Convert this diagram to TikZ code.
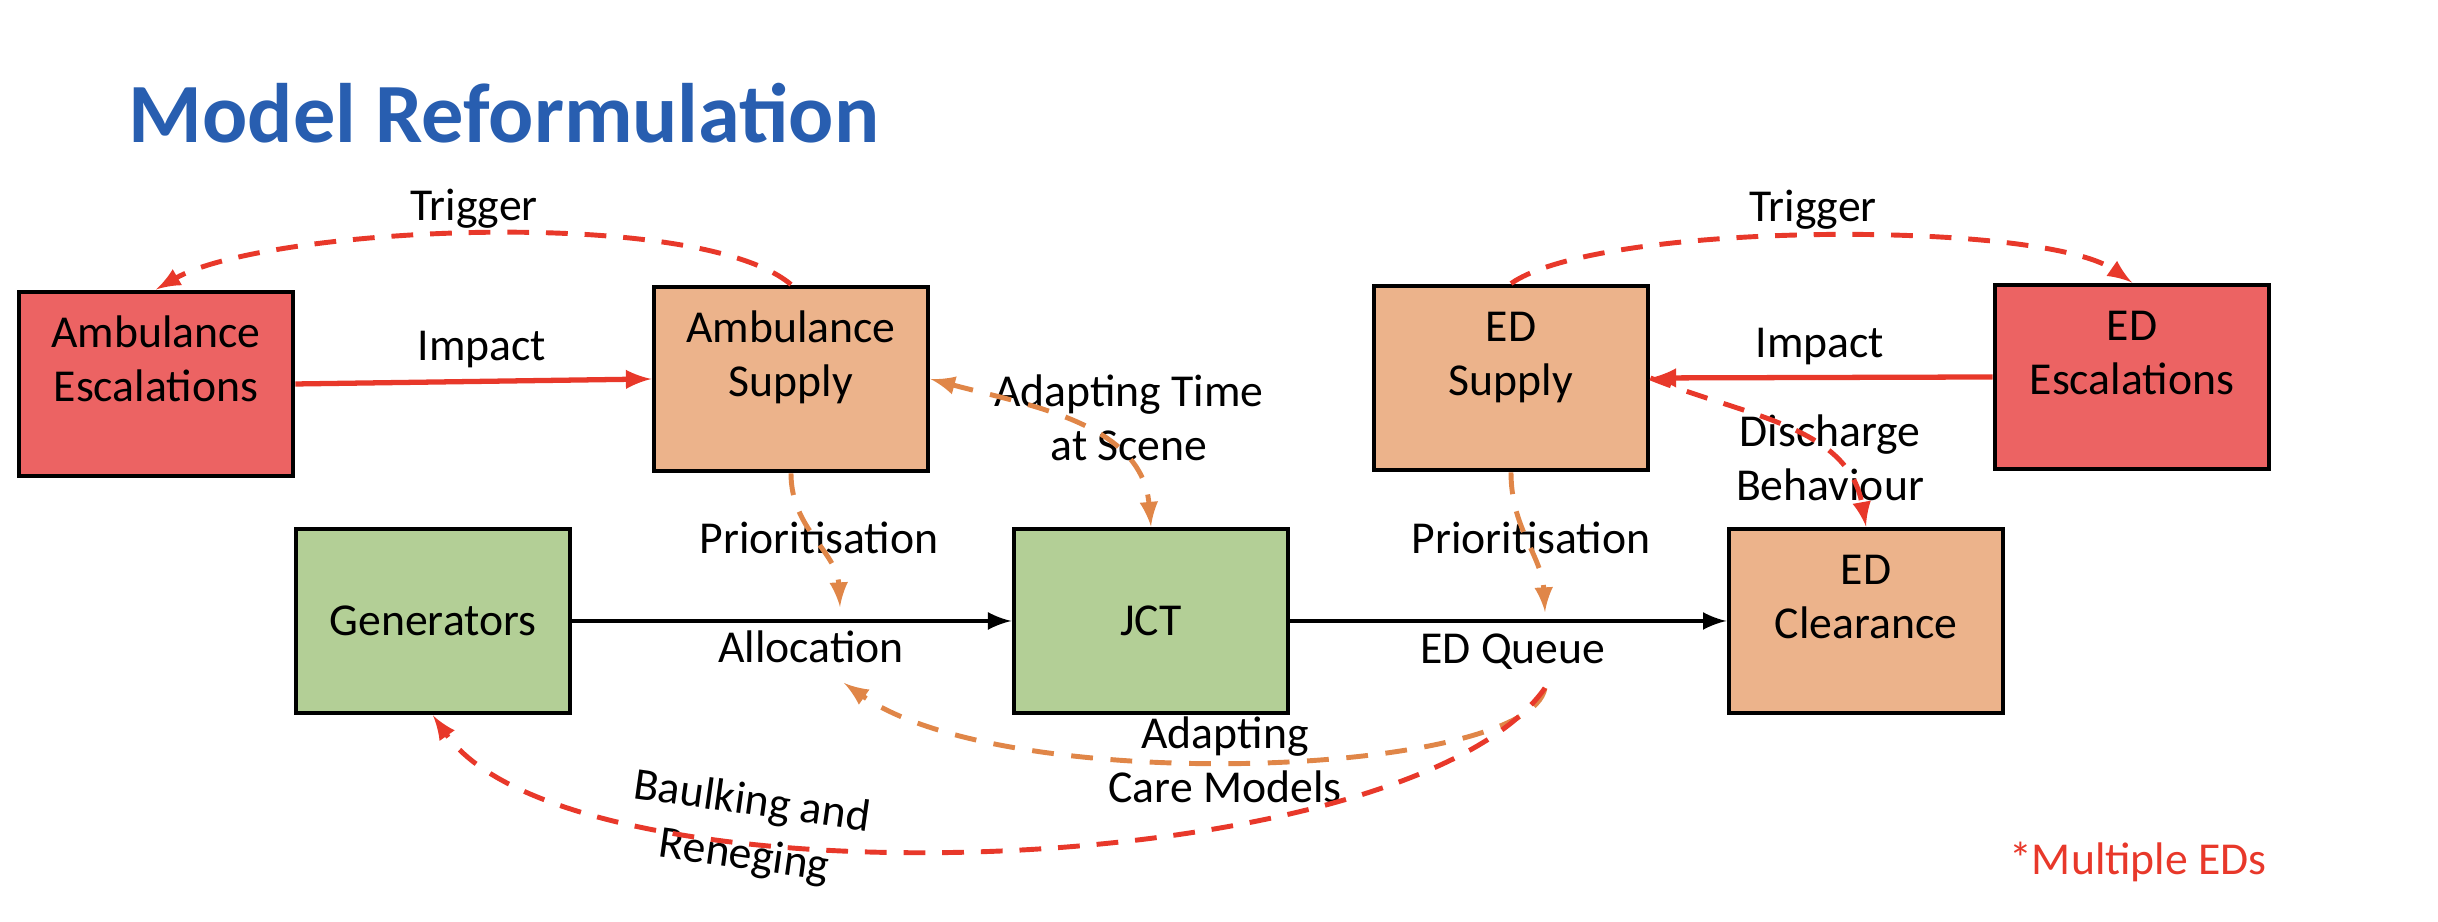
\documentclass[tikz,border=0pt]{standalone}
\usepackage{fontspec}
\setmainfont{Carlito}
\usepackage{xcolor}
\definecolor{escred}{RGB}{236,99,99}
\definecolor{supplyorange}{RGB}{236,179,139}
\definecolor{gengreen}{RGB}{179,207,150}
\definecolor{linered}{RGB}{232,56,42}
\definecolor{lineorange}{RGB}{224,134,72}
\definecolor{titleblue}{RGB}{40,94,176}

\begin{document}
\begin{tikzpicture}[
    box/.style={draw, line width=1.4pt, minimum width=2.74cm, minimum height=1.84cm,
        inner ysep=0pt, align=center, font=\fontsize{13}{15.5}\selectfont},
    topbox/.style={box, text height=1.10cm, text depth=0.74cm},
    lab/.style={align=center, font=\fontsize{13}{15.5}\selectfont},
    impact/.style={-latex, line width=1.5pt, color=linered},
    redflow/.style={-latex, line width=1.4pt, color=linered, dash pattern=on 6.2pt off 4.8pt},
    orangeflow/.style={-latex, line width=1.4pt, color=lineorange, dash pattern=on 6.2pt off 5pt},
    flow/.style={-latex, line width=1.3pt}
]
    \useasboundingbox (0,0) rectangle (24.38,9.22);
    % title
    \node[anchor=base west, inner sep=0pt, text=titleblue,
        font=\fontsize{24}{28}\selectfont\bfseries] (title) at (1.28,7.79) {Model Reformulation};

    % ambulance side
    \node[topbox, fill=escred] (ambesc) at (1.56,5.38) {Ambulance\\Escalations};
    \node[topbox, fill=supplyorange] (ambsup) at (7.91,5.43) {Ambulance\\Supply};
    % ED side
    \node[topbox, fill=supplyorange] (edsup) at (15.11,5.44) {ED\\Supply};
    \node[topbox, fill=escred] (edesc) at (21.32,5.45) {ED\\Escalations};
    % main line
    \node[box, fill=gengreen] (gen) at (4.33,3.01) {Generators};
    \node[box, fill=gengreen] (jct) at (11.51,3.01) {JCT};
    \node[topbox, fill=supplyorange] (edclr) at (18.66,3.01) {ED\\Clearance};

    % labels
    \node[lab] (trig1) at (4.74,7.13) {Trigger};
    \node[lab] (imp1) at (4.82,5.72) {Impact};
    \node[lab] (adapttime) at (11.29,5.04) {Adapting Time\\at Scene};
    \node[lab] (prio1) at (8.19,3.84) {Prioritisation};
    \node[lab] (alloc) at (8.11,2.75) {Allocation};
    \node[lab] (trig2) at (18.13,7.12) {Trigger};
    \node[lab] (imp2) at (18.20,5.75) {Impact};
    \node[lab] (discharge) at (18.30,4.64) {Discharge\\Behaviour};
    \node[lab] (prio2) at (15.31,3.84) {Prioritisation};
    \node[lab] (edqueue) at (15.13,2.70) {ED Queue};
    \node[lab] (adaptcare) at (12.25,1.62) {Adapting\\Care Models};
    \node[lab, rotate=-8] (baulk) at (7.48,0.92) {Baulking and\\Reneging};
    \node[lab, text=linered] (multi) at (21.38,0.60) {*Multiple EDs};

    \coordinate (prio1tip) at (8.40,3.15);
    \coordinate (alloctip) at (8.44,2.39);
    \coordinate (prio2tip) at (15.45,3.10);
    \coordinate (queuept) at (15.45,2.34);

    % escalation arrows
    \draw[redflow] (ambsup.north) to[out=140, in=30, looseness=0.5] (ambesc.north);
    \draw[impact] (ambesc.east) -- (ambsup.west);
    \draw[redflow] (edsup.north) to[out=35, in=145, looseness=0.45] (edesc.north);
    \draw[impact] (edesc.west) -- (edsup.east);
    \draw[redflow] (edsup.east) to[out=-22, in=100] (edclr.north);
    % patient flow
    \draw[flow] (gen) -- (jct);
    \draw[flow] (jct) -- (edclr);
    % feedback
    \draw[orangeflow] (ambsup.south) to[out=-90, in=93] (prio1tip);
    \draw[orangeflow] (edsup.south) to[out=-90, in=93] (prio2tip);
    \draw[orangeflow, latex-latex] (ambsup.east) to[out=-15, in=95] (jct.north);
    \draw[orangeflow] (queuept) .. controls +(-100:0.9) and +(-35:2.0) .. (alloctip);
    \draw[redflow] (queuept) .. controls +(-125:2.4) and +(-55:2.4) .. (gen.south);
\end{tikzpicture}
\end{document}
